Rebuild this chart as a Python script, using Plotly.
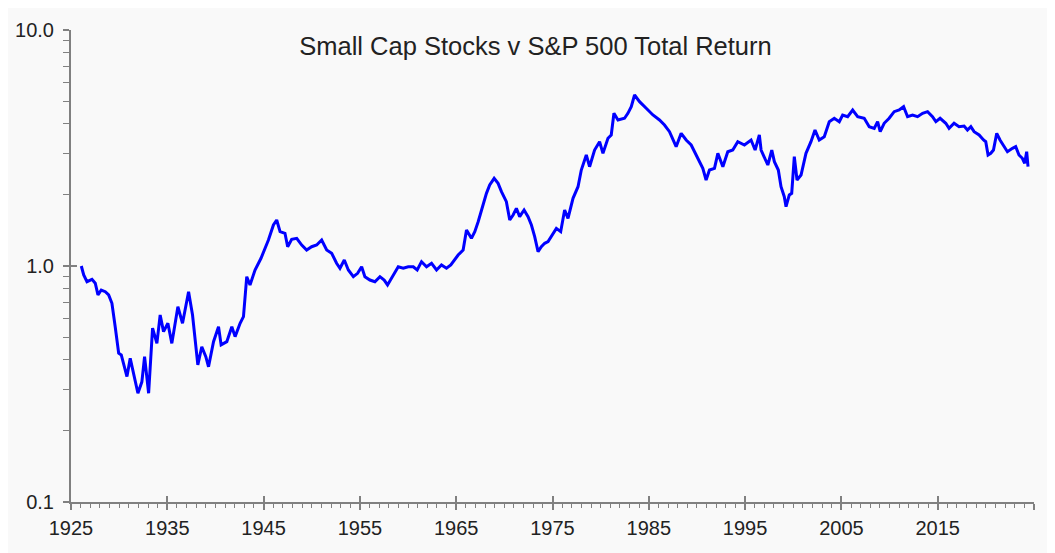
import plotly.graph_objects as go

# ratio of small cap total return to S&P 500 total return
years = [1926.07, 1926.32, 1926.66, 1927.18, 1927.52, 1927.80, 1928.14, 1928.56, 1928.91, 1929.25,
         1929.59, 1929.95, 1930.22, 1930.47, 1930.81, 1931.15, 1931.50, 1931.95, 1932.36, 1932.64,
         1933.06, 1933.47, 1933.92, 1934.26, 1934.61, 1935.06, 1935.47, 1936.10, 1936.58, 1937.21,
         1937.62, 1938.17, 1938.58, 1939.00, 1939.28, 1939.80, 1940.32, 1940.59, 1941.18, 1941.70,
         1942.04, 1942.56, 1942.91, 1943.25, 1943.59, 1944.11, 1944.73, 1945.50, 1946.02, 1946.36,
         1946.71, 1947.22, 1947.50, 1947.92, 1948.44, 1948.96, 1949.47, 1949.99, 1950.51, 1951.03,
         1951.55, 1952.07, 1952.58, 1952.93, 1953.38, 1953.80, 1954.32, 1954.76, 1955.18, 1955.52,
         1956.04, 1956.56, 1957.08, 1957.52, 1957.87, 1958.29, 1958.98, 1959.50, 1960.02, 1960.54,
         1960.95, 1961.40, 1961.92, 1962.44, 1962.96, 1963.47, 1963.99, 1964.44, 1965.20, 1965.72,
         1966.07, 1966.58, 1966.93, 1967.28, 1967.62, 1968.14, 1968.48, 1968.94, 1969.35, 1969.70,
         1970.21, 1970.56, 1970.91, 1971.25, 1971.59, 1972.05, 1972.46, 1972.81, 1973.15, 1973.50,
         1973.84, 1974.19, 1974.54, 1974.88, 1975.40, 1975.85, 1976.26, 1976.61, 1977.13, 1977.65,
         1977.99, 1978.51, 1978.85, 1979.37, 1979.89, 1980.24, 1980.76, 1981.10, 1981.38, 1981.80,
         1982.48, 1982.83, 1983.18, 1983.52, 1984.04, 1984.73, 1985.43, 1986.11, 1986.63, 1987.15,
         1987.84, 1988.36, 1988.88, 1989.40, 1990.09, 1990.61, 1990.95, 1991.30, 1991.82, 1992.17,
         1992.69, 1993.20, 1993.72, 1994.24, 1994.93, 1995.62, 1996.04, 1996.48, 1996.66, 1997.18,
         1997.36, 1997.77, 1998.04, 1998.45, 1998.73, 1999.07, 1999.25, 1999.59, 1999.84, 2000.11,
         2000.39, 2000.81, 2001.32, 2001.84, 2002.26, 2002.70, 2003.22, 2003.74, 2004.26, 2004.78,
         2005.13, 2005.65, 2006.17, 2006.69, 2007.37, 2007.89, 2008.41, 2008.76, 2009.03, 2009.44,
         2009.96, 2010.48, 2011.00, 2011.46, 2011.87, 2012.39, 2012.91, 2013.43, 2013.95, 2014.46,
         2014.81, 2015.25, 2015.84, 2016.18, 2016.70, 2017.22, 2017.74, 2018.09, 2018.44, 2018.78,
         2019.30, 2019.76, 2019.99, 2020.23, 2020.51, 2020.79, 2021.13, 2021.47, 2021.89, 2022.24,
         2022.76, 2023.10, 2023.44, 2023.79, 2024.03, 2024.24, 2024.38]

ratio = [1.000, 0.916, 0.858, 0.878, 0.845, 0.754, 0.791, 0.778, 0.754, 0.695,
         0.553, 0.427, 0.420, 0.387, 0.340, 0.406, 0.351, 0.289, 0.323, 0.413,
         0.289, 0.545, 0.470, 0.620, 0.527, 0.572, 0.470, 0.672, 0.572, 0.778,
         0.620, 0.381, 0.455, 0.413, 0.374, 0.478, 0.553, 0.463, 0.478, 0.553,
         0.502, 0.572, 0.610, 0.901, 0.831, 0.962, 1.078, 1.289, 1.492, 1.566,
         1.398, 1.376, 1.207, 1.297, 1.310, 1.227, 1.169, 1.207, 1.227, 1.289,
         1.169, 1.132, 1.027, 0.978, 1.060, 0.962, 0.901, 0.931, 0.993, 0.901,
         0.872, 0.858, 0.901, 0.872, 0.831, 0.887, 0.993, 0.978, 0.993, 0.993,
         0.962, 1.043, 0.993, 1.027, 0.962, 1.010, 0.978, 1.010, 1.113, 1.169,
         1.420, 1.310, 1.398, 1.541, 1.727, 2.032, 2.204, 2.353, 2.240, 2.065,
         1.873, 1.566, 1.645, 1.756, 1.618, 1.727, 1.618, 1.492, 1.331, 1.150,
         1.207, 1.248, 1.268, 1.331, 1.444, 1.398, 1.727, 1.592, 1.936, 2.168,
         2.551, 2.953, 2.635, 3.101, 3.363, 3.003, 3.476, 3.591, 4.436, 4.156,
         4.226, 4.436, 4.732, 5.304, 4.969, 4.658, 4.364, 4.156, 3.958, 3.708,
         3.203, 3.650, 3.419, 3.256, 2.861, 2.594, 2.314, 2.551, 2.594, 3.003,
         2.635, 3.050, 3.101, 3.363, 3.256, 3.419, 3.101, 3.591, 3.101, 2.813,
         2.679, 3.101, 2.767, 2.551, 2.168, 1.966, 1.784, 2.000, 2.032, 2.905,
         2.314, 2.430, 3.003, 3.363, 3.770, 3.419, 3.531, 4.088, 4.226, 4.088,
         4.364, 4.292, 4.581, 4.292, 4.226, 3.893, 3.832, 4.088, 3.708, 4.025,
         4.226, 4.507, 4.581, 4.732, 4.292, 4.364, 4.292, 4.436, 4.507, 4.292,
         4.088, 4.226, 4.025, 3.832, 4.025, 3.893, 3.920, 3.770, 3.893, 3.708,
         3.591, 3.419, 3.363, 2.953, 3.003, 3.101, 3.650, 3.419, 3.203, 3.050,
         3.153, 3.203, 2.953, 2.861, 2.724, 3.050, 2.635]

x_ticks = [1925, 1935, 1945, 1955, 1965, 1975, 1985, 1995, 2005, 2015, 2025]
x_labels = ["1925", "1935", "1945", "1955", "1965", "1975", "1985", "1995", "2005", "2015", ""]
y_ticks = [0.1, 1, 10]
y_labels = ["0.1", "1.0", "10.0"]
y_minor = [0.2, 0.3, 0.4, 0.5, 0.6, 0.7, 0.8, 0.9, 2, 3, 4, 5, 6, 7, 8, 9]

axis_col = "#808080"
font_col = "#222222"

fig = go.Figure()
fig.add_trace(go.Scatter(x=years, y=ratio, mode="lines",
                         line=dict(color="#0000ff", width=3), showlegend=False))
# empty trace so the overlay axes (inner half of the major ticks) get drawn
fig.add_trace(go.Scatter(x=[], y=[], xaxis="x2", yaxis="y2", showlegend=False))

fig.update_layout(
    width=1055, height=553,
    margin=dict(l=63, r=29, t=22, b=59),
    paper_bgcolor="#f9f9f9", plot_bgcolor="#f9f9f9",
    font=dict(family="Liberation Sans, Arial, sans-serif", size=20, color=font_col),
    title=dict(text="Small Cap Stocks v S&P 500 Total Return", x=0.5, xanchor="center",
               y=0.931, yanchor="middle", font=dict(size=25.5, color=font_col)),
    xaxis=dict(range=[1925, 2025], tickmode="array", tickvals=x_ticks, ticktext=x_labels,
               ticks="outside", ticklen=6, tickwidth=2, tickcolor=axis_col, automargin=False,
               showline=True, linecolor=axis_col, linewidth=2, showgrid=False, zeroline=False,
               ticklabelstandoff=1,
               minor=dict(dtick=1, tick0=1925, ticks="outside", ticklen=4, tickwidth=1,
                          tickcolor=axis_col, showgrid=False)),
    yaxis=dict(type="log", range=[-1, 1], tickmode="array", tickvals=y_ticks, ticktext=y_labels,
               ticks="outside", ticklen=6, tickwidth=2, tickcolor=axis_col, automargin=False,
               showline=True, linecolor=axis_col, linewidth=2, showgrid=False, zeroline=False,
               ticklabelstandoff=5,
               minor=dict(tickmode="array", tickvals=y_minor, ticks="outside", ticklen=6,
                          tickwidth=1, tickcolor=axis_col, showgrid=False)),
    xaxis2=dict(overlaying="x", anchor="y2", range=[1925, 2025], tickmode="array",
                tickvals=x_ticks, ticks="inside", ticklen=6, tickwidth=2, tickcolor=axis_col,
                showticklabels=False, showline=False, showgrid=False, zeroline=False,
                automargin=False),
    yaxis2=dict(overlaying="y", anchor="x2", type="log", range=[-1, 1], tickmode="array",
                tickvals=y_ticks, ticks="inside", ticklen=6, tickwidth=2, tickcolor=axis_col,
                showticklabels=False, showline=False, showgrid=False, zeroline=False,
                automargin=False),
)

fig.write_html("out.html")
